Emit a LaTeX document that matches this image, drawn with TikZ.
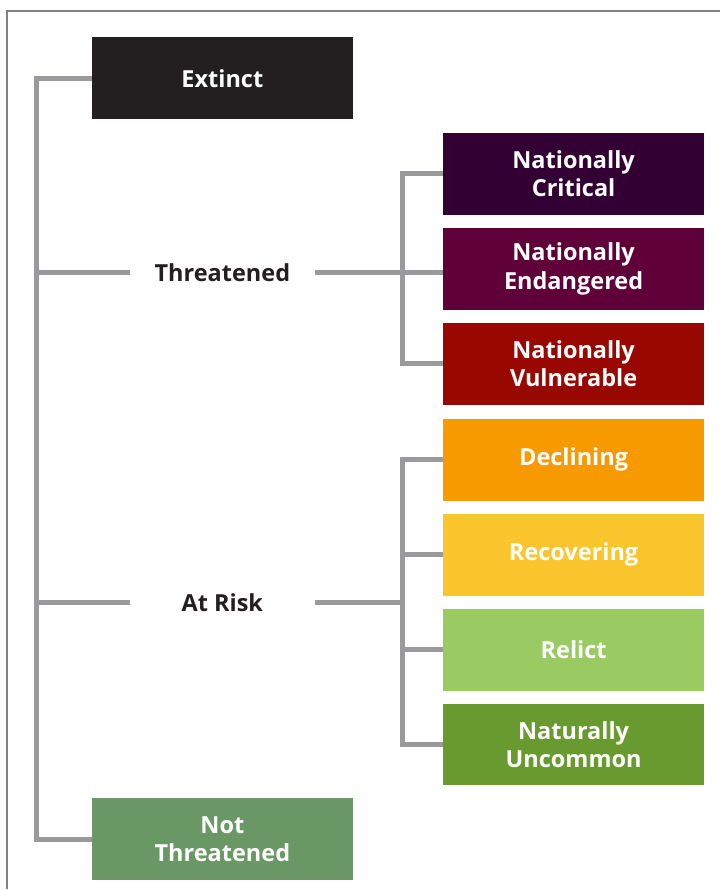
\documentclass[tikz,border=0pt]{standalone}
\usepackage{fontspec}
\setmainfont{Open Sans}
\usepackage{tikz}
\usepackage{xcolor}

\definecolor{extblack}{HTML}{231F20}
\definecolor{critpurple}{HTML}{330033}
\definecolor{endgplum}{HTML}{5F0038}
\definecolor{vulnred}{HTML}{990800}
\definecolor{declorange}{HTML}{F69A00}
\definecolor{recovyellow}{HTML}{FBC62D}
\definecolor{relictgreen}{HTML}{9ACB62}
\definecolor{uncomgreen}{HTML}{699A2F}
\definecolor{notthrgreen}{HTML}{699865}
\definecolor{linkgray}{HTML}{9A9A9C}
\definecolor{textdark}{HTML}{231F20}

\tikzset{
    box/.style={minimum width=261pt, minimum height=82pt, inner sep=0pt, align=center, text=white, font=\bfseries\fontsize{23.5}{28.5}\selectfont},
    lbl/.style={minimum width=185pt, inner sep=0pt, text=textdark, font=\bfseries\fontsize{23.5}{28.5}\selectfont},
    link/.style={draw=linkgray, line width=5pt, line join=miter},
}

\begin{document}
\begin{tikzpicture}[x=1pt, y=-1pt]
                \fill[white] (0,0) rectangle (720,890);
                \draw[gray, line width=1.2pt](7,890) -- (7,11) -- (720,11);
                \node[box, fill=extblack] (ext) at (222.5,78.5) {Extinct};
                \node[lbl] (threat) at (222.5,273) {Threatened};
                \node[lbl] (risk) at (222.5,603) {At Risk};
                \node[box, fill=notthrgreen] (nt) at (222.5,840) {Not\\Threatened};
                \node[box, fill=critpurple] (nc) at (574,174) {Nationally\\Critical};
                \node[box, fill=endgplum] (ne) at (574,269) {Nationally\\Endangered};
                \node[box, fill=vulnred] (nv) at (574,364) {Nationally\\Vulnerable};
                \node[box, fill=declorange] (dec) at (574,460) {Declining};
                \node[box, fill=recovyellow] (rec) at (574,555) {Recovering};
                \node[box, fill=relictgreen] (rel) at (574,650) {Relict};
                \node[box, fill=uncomgreen] (nu) at (574,745) {Naturally\\Uncommon};
                \coordinate (sp) at (37,273);
                \coordinate (tj) at (403,273);
                \coordinate (rj) at (403,603);
                \draw[link](ext.west) -| (sp) |- (nt.west);
                \draw[link](sp) -- (threat.west);
                \draw[link](sp |- risk.west) -- (risk.west);
                \draw[link](threat.east) -- (ne.west |- tj);
                \draw[link](nc.west) -| (tj) |- (nv.west);
                \draw[link](risk.east) -- (rj);
                \draw[link](dec.west) -| (rj) |- (nu.west);
                \draw[link](rj |- rec.west) -- (rec.west);
                \draw[link](rj |- rel.west) -- (rel.west);
            \end{tikzpicture}
\end{document}
